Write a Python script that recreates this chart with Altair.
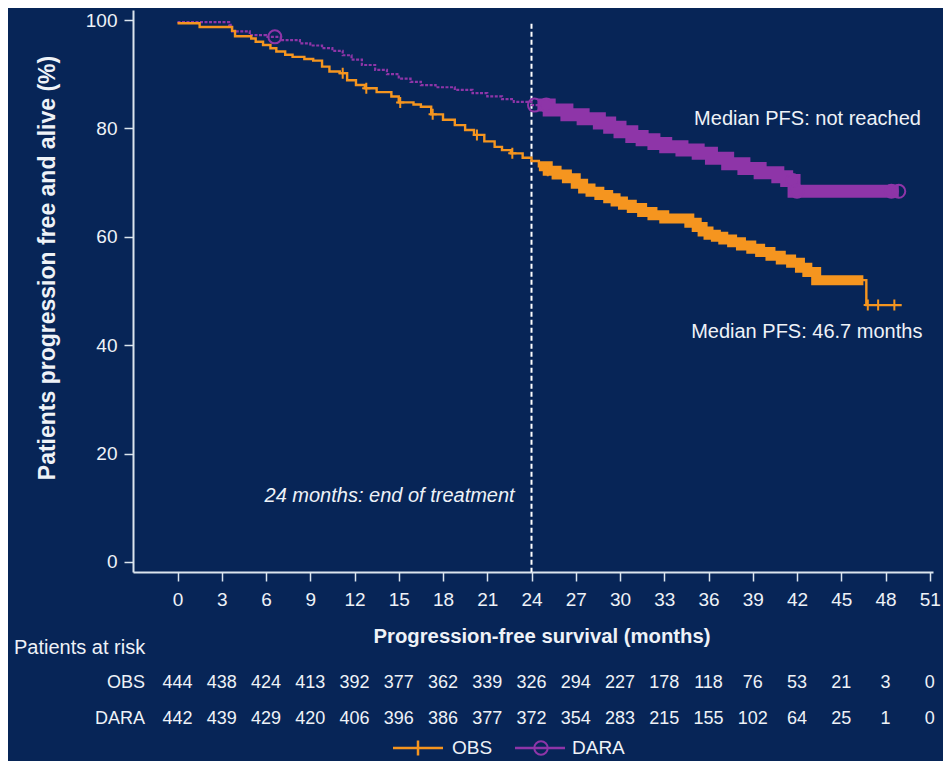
import altair as alt
import pandas as pd

# ---------------- data ----------------
month_ticks = [0, 3, 6, 9, 12, 15, 18, 21, 24, 27, 30, 33, 36, 39, 42, 45, 48, 51]
y_ticks = [0, 20, 40, 60, 80, 100]

obs_risk = [444, 438, 424, 413, 392, 377, 362, 339, 326, 294, 227, 178, 118, 76, 53, 21, 3, 0]
dara_risk = [442, 439, 429, 420, 406, 396, 386, 377, 372, 354, 283, 215, 155, 102, 64, 25, 1, 0]

obs_t = [0.0, 1.5, 3.7, 3.9, 5.0, 5.3, 5.8, 6.3, 6.7, 7.3, 7.8, 8.6, 9.2, 9.8, 10.3, 11.0, 11.5,
         12.1, 12.7, 13.5, 14.5, 15.0, 16.0, 16.5, 17.2, 18.0, 18.8, 19.5, 20.1, 20.8, 21.5, 22.0,
         22.6, 23.4, 24.0, 24.5, 25.1, 25.7, 26.4, 27.0, 27.5, 28.0, 28.6, 29.2, 29.7, 30.2, 30.8,
         31.5, 32.2, 33.0, 34.7, 35.2, 35.6, 36.0, 36.5, 37.0, 37.6, 38.2, 38.9, 39.5, 40.2, 40.9,
         41.6, 42.2, 42.7, 43.3, 46.7, 49.1]
obs_s = [99.4, 98.7, 98.0, 97.0, 96.6, 96.0, 95.4, 94.8, 94.2, 93.6, 93.2, 92.8, 92.5, 91.4, 90.5,
         90.2, 88.9, 88.0, 87.4, 86.7, 85.9, 84.8, 84.4, 84.0, 82.6, 81.6, 80.6, 79.7, 78.8, 77.6,
         76.6, 76.0, 75.4, 74.6, 74.0, 73.0, 72.2, 71.5, 70.8, 69.8, 68.9, 68.3, 67.7, 67.1, 66.5,
         65.9, 65.3, 64.6, 64.0, 63.4, 62.6, 61.8, 61.0, 60.4, 60.0, 59.5, 59.0, 58.4, 57.8, 57.2,
         56.5, 55.8, 55.2, 54.3, 53.5, 52.0, 47.4, 47.4]

dara_t = [0.0, 3.5, 3.7, 4.9, 6.0, 7.0, 8.3, 9.0, 9.8, 10.5, 11.2, 11.8, 12.5, 13.4, 14.2, 15.0,
          15.8, 16.5, 17.5, 18.8, 20.0, 21.0, 22.0, 22.8, 24.0, 25.2, 26.4, 27.5, 28.6, 29.3, 30.0,
          30.8, 31.5, 32.3, 33.1, 34.2, 35.3, 36.2, 37.3, 38.4, 39.5, 40.7, 41.3, 41.8, 48.9]
dara_s = [99.6, 99.1, 97.9, 97.2, 96.9, 96.3, 95.7, 95.3, 94.8, 94.3, 93.5, 92.7, 91.7, 90.8, 90.0,
          89.2, 88.6, 88.0, 87.6, 87.1, 86.5, 85.9, 85.4, 84.9, 84.3, 83.4, 82.5, 81.8, 81.0, 80.2,
          79.4, 78.5, 77.9, 77.2, 76.6, 76.0, 75.4, 74.5, 73.5, 72.6, 71.8, 71.1, 70.4, 68.4, 68.4]

obs_censor = [11.2, 12.8, 15.1, 17.3, 20.3, 22.7, 25.1, 46.8, 47.5, 48.6]
dara_censor = [6.6, 24.2, 25.0, 41.7, 42.0, 48.4, 48.9]

# dense-censoring stretches (drawn as a thick band of overlapping markers)
obs_band = (24.5, 46.5)
dara_band = (24.4, 48.9)

# ---------------- styling ----------------
BG = "#072557"
ORANGE = "#f5951f"
PURPLE = "#8e35a8"
AXIS = "#dbe5ee"
TXT = "#eef2f7"
FONT = "Liberation Sans, Arial, Helvetica, sans-serif"

X_DOMAIN = [-3.017, 51.22]
Y_DOMAIN = [-1.85, 101.85]
W, H = 800, 562


def surv_at(ts, ss, t):
    idx = 0
    for i, x in enumerate(ts):
        if x <= t:
            idx = i
    return ss[idx]


def band_frame(ts, ss, lo, hi):
    rows = [(lo, surv_at(ts, ss, lo))]
    rows += [(t, s) for t, s in zip(ts, ss) if lo < t < hi]
    rows.append((hi, surv_at(ts, ss, hi)))
    return pd.DataFrame(rows, columns=["t", "s"])


obs_df = pd.DataFrame({"t": obs_t, "s": obs_s})
dara_df = pd.DataFrame({"t": dara_t, "s": dara_s})
obs_band_df = band_frame(obs_t, obs_s, *obs_band)
dara_band_df = band_frame(dara_t, dara_s, *dara_band)
obs_c_df = pd.DataFrame({"t": obs_censor, "s": [surv_at(obs_t, obs_s, t) for t in obs_censor]})
dara_c_df = pd.DataFrame({"t": dara_censor, "s": [surv_at(dara_t, dara_s, t) for t in dara_censor]})

xaxis = alt.Axis(values=month_ticks, title=None, grid=False, tickSize=9, tickWidth=1.5,
                 tickColor=AXIS, domainColor=AXIS, domainWidth=2, labelColor=TXT,
                 labelFont=FONT, labelFontSize=19, labelPadding=9, labelFlush=False,
                 labelOverlap=False)
yaxis = alt.Axis(values=y_ticks, title=None, grid=False, tickSize=9, tickWidth=1.5,
                 tickColor=AXIS, domainColor=AXIS, domainWidth=2, labelColor=TXT,
                 labelFont=FONT, labelFontSize=19, labelPadding=7)
xs = alt.Scale(domain=X_DOMAIN, nice=False, zero=False)
ys = alt.Scale(domain=Y_DOMAIN, nice=False, zero=False)


def X():
    return alt.X("t:Q", scale=xs, axis=xaxis)


def Y():
    return alt.Y("s:Q", scale=ys, axis=yaxis)


PLUS = "M-0.75,0H0.75M0,-1V1"

dara_line = alt.Chart(dara_df).mark_line(interpolate="step-after", color=PURPLE, strokeWidth=2.2,
                                         strokeDash=[3, 1.5]).encode(x=X(), y=Y())
dara_bandl = alt.Chart(dara_band_df).mark_line(interpolate="step-after", color=PURPLE, strokeWidth=13,
                                               strokeCap="butt").encode(x=X(), y=Y())
dara_pts = alt.Chart(dara_c_df).mark_point(shape="circle", size=169, filled=False, color=PURPLE,
                                           strokeWidth=2, opacity=1).encode(x=X(), y=Y())
obs_line = alt.Chart(obs_df).mark_line(interpolate="step-after", color=ORANGE,
                                       strokeWidth=2.4).encode(x=X(), y=Y())
obs_bandl = alt.Chart(obs_band_df).mark_line(interpolate="step-after", color=ORANGE, strokeWidth=10,
                                             strokeCap="butt").encode(x=X(), y=Y())
obs_pts = alt.Chart(obs_c_df).mark_point(shape=PLUS, size=121, filled=False, color=ORANGE,
                                         strokeWidth=2, opacity=1).encode(x=X(), y=Y())

# dashed end-of-treatment line
eot_df = pd.DataFrame({"t": [24], "s": [99.3], "s2": [Y_DOMAIN[0]]})
eot = alt.Chart(eot_df).mark_rule(color="white", strokeWidth=2, strokeDash=[5, 3]).encode(
    x=X(), y=Y(), y2="s2:Q")

# annotations in data coordinates
ann_df = pd.DataFrame({
    "t": [50.4, 50.5],
    "s": [80.6, 41.3],
    "label": ["Median PFS: not reached", "Median PFS: 46.7 months"],
})
ann = alt.Chart(ann_df).mark_text(align="right", baseline="alphabetic", font=FONT, fontSize=20,
                                  color=TXT).encode(x=X(), y=Y(), text="label:N")
eot_txt = alt.Chart(pd.DataFrame({"t": [5.9], "s": [11.1], "label": ["24 months: end of treatment"]})
                    ).mark_text(align="left", baseline="alphabetic", font=FONT, fontSize=20,
                                fontStyle="italic", color=TXT).encode(x=X(), y=Y(), text="label:N")

# axis titles
ytitle = alt.Chart(pd.DataFrame({"label": ["Patients progression free and alive (%)"]})).mark_text(
    angle=270, font=FONT, fontSize=23, fontWeight="bold", color=TXT, align="center",
    baseline="middle").encode(x=alt.value(-85), y=alt.value(258), text="label:N")
xtitle = alt.Chart(pd.DataFrame({"label": ["Progression-free survival (months)"]})).mark_text(
    font=FONT, fontSize=20.3, fontWeight="bold", color=TXT, align="center",
    baseline="middle").encode(x=alt.value(409), y=alt.value(627), text="label:N")

# risk table
risk_df = pd.DataFrame({
    "t": month_ticks + month_ticks,
    "n": [str(v) for v in obs_risk] + [str(v) for v in dara_risk],
    "row": ["OBS"] * len(month_ticks) + ["DARA"] * len(month_ticks),
})
risk_obs = alt.Chart(risk_df).transform_filter(alt.datum.row == "OBS").mark_text(
    font=FONT, fontSize=18, color=TXT, baseline="middle").encode(
    x=X(), y=alt.value(673), text="n:N")
risk_dara = alt.Chart(risk_df).transform_filter(alt.datum.row == "DARA").mark_text(
    font=FONT, fontSize=18, color=TXT, baseline="middle").encode(
    x=X(), y=alt.value(709), text="n:N")
row_lbl_df = pd.DataFrame({"label": ["OBS", "DARA"], "py": [673, 709]})
row_lbl = alt.Chart(row_lbl_df).mark_text(font=FONT, fontSize=18, color=TXT, align="right",
                                          baseline="middle").encode(
    x=alt.value(12), y=alt.Y("py:Q", scale=None), text="label:N")
par = alt.Chart(pd.DataFrame({"label": ["Patients at risk"]})).mark_text(
    font=FONT, fontSize=20, color=TXT, align="left", baseline="middle").encode(
    x=alt.value(-119), y=alt.value(638), text="label:N")

# legend
LEG_Y = 738
leg_obs_line = alt.Chart(pd.DataFrame({"k": ["OBS"]})).mark_rule(color=ORANGE, strokeWidth=2.5).encode(
    x=alt.value(260), x2=alt.value(310), y=alt.value(LEG_Y))
leg_obs_mk = alt.Chart(pd.DataFrame({"k": ["OBS"]})).mark_point(shape="M0,-1V1", size=225, filled=False,
                                                                color=ORANGE, strokeWidth=2.5, opacity=1).encode(
    x=alt.value(285), y=alt.value(LEG_Y))
leg_dara_line = alt.Chart(pd.DataFrame({"k": ["DARA"]})).mark_rule(color=PURPLE, strokeWidth=2.5).encode(
    x=alt.value(382), x2=alt.value(432), y=alt.value(LEG_Y))
leg_dara_mk = alt.Chart(pd.DataFrame({"k": ["DARA"]})).mark_point(shape="circle", size=180, filled=False,
                                                                  color=PURPLE, strokeWidth=2, opacity=1).encode(
    x=alt.value(408), y=alt.value(LEG_Y))
leg_txt_df = pd.DataFrame({"label": ["OBS", "DARA"], "px": [319, 439]})
leg_txt = alt.Chart(leg_txt_df).mark_text(font=FONT, fontSize=19, color=TXT, align="left",
                                          baseline="middle").encode(
    x=alt.X("px:Q", scale=None), y=alt.value(LEG_Y), text="label:N")

chart = alt.layer(
    eot, dara_line, dara_bandl, dara_pts, obs_line, obs_bandl, obs_pts,
    ann, eot_txt, ytitle, xtitle, risk_obs, risk_dara, row_lbl, par,
    leg_obs_line, leg_obs_mk, leg_dara_line, leg_dara_mk, leg_txt,
).properties(
    width=W, height=H,
    autosize=alt.AutoSizeParams(type="none"),
    padding={"left": 125, "top": 2, "right": 10, "bottom": 189},
).configure(background=BG).configure_view(strokeWidth=0)

chart.save("out.html", embed_options={"renderer": "svg", "actions": False})
